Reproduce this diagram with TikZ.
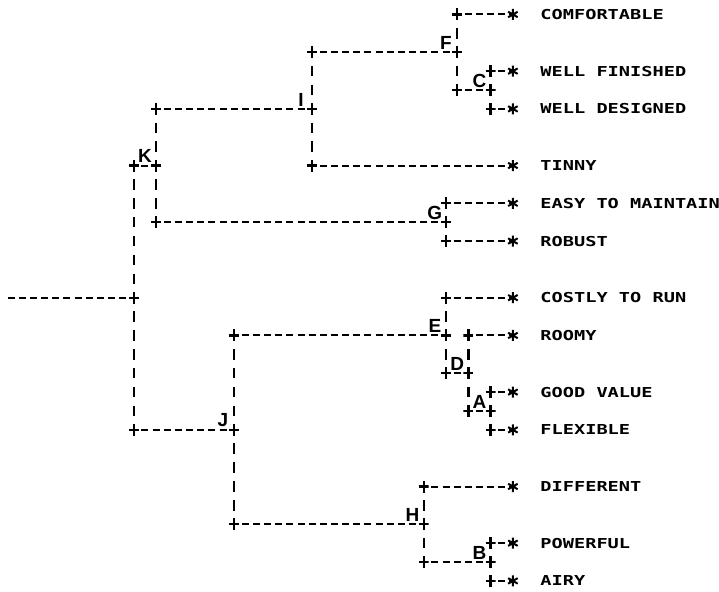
\documentclass[tikz,border=0pt]{standalone}
\usepackage{fontspec}
\newfontfamily\printfont[FakeStretch=1.36]{DejaVu Sans Mono}
\newfontfamily\handfont{Liberation Sans Bold}
\begin{document}
\begin{tikzpicture}[x=11.15pt,y=-18.88pt,
  hdash/.style={line width=2pt, dash pattern=on 7pt off 4.15pt, dash phase=3.5pt},
  vdash/.style={line width=2.4pt, dash pattern=on 10.5pt off 8.38pt, dash phase=5.25pt},
  plusmark/.style={inner sep=0pt, minimum width=10pt, minimum height=12pt,
    path picture={\draw[line width=2.4pt]
      (path picture bounding box.north) -- (path picture bounding box.south);
      \draw[line width=2.2pt]
      (path picture bounding box.west) -- (path picture bounding box.east);}},
  starmark/.style={inner sep=0pt, minimum size=11pt,
    path picture={\draw[line width=2pt]
      (path picture bounding box.center) ++(90:5.5pt) -- ++(270:11pt)
      (path picture bounding box.center) ++(30:5.5pt) -- ++(210:11pt)
      (path picture bounding box.center) ++(150:5.5pt) -- ++(330:11pt);}},
  lbl/.style={anchor=west, inner sep=0pt,
    font=\printfont\bfseries\fontsize{13.7}{16}\selectfont},
  letterlbl/.style={anchor=south, inner sep=0pt, yshift=2.5pt,
    font=\handfont\fontsize{19}{19}\selectfont}
]
\useasboundingbox (0,-0.768) rectangle (64.484,30.535);

% ---- junction and corner marks
\foreach \n/\x/\r in {
  pComf/41/0, pF/41/2, pC0/41/4, pI1/28/2,
  pWF/44/3, pCj/44/4, pWD/44/5,
  pI/28/5, pTin/28/8, pK2a/14/5, pK/14/8, pG0/14/11,
  pEasy/40/10, pG/40/11, pRob/40/12,
  pKl/12/8, pRoot/12/15, pJl/12/22,
  pCost/40/15, pE/40/17, pD0/40/19,
  pRoomy/42/17, pD/42/19, pA0/42/21,
  pGV/44/20, pA/44/21, pFlex/44/22,
  pJ1/21/17, pJ/21/22, pJb/21/27,
  pDiff/38/25, pH/38/27, pB0/38/29,
  pPow/44/28, pB/44/29, pAiry/44/30}
  \node[plusmark] (\n) at (\x,\r) {};

\coordinate (rootin) at (0.686,15);

% ---- leaves and their labels
\foreach \n/\r/\t in {
  Comf/0/COMFORTABLE, WF/3/WELL FINISHED, WD/5/WELL DESIGNED,
  Tin/8/TINNY, Easy/10/EASY TO MAINTAIN, Rob/12/ROBUST,
  Cost/15/COSTLY TO RUN, Roomy/17/ROOMY, GV/20/GOOD VALUE,
  Flex/22/FLEXIBLE, Diff/25/DIFFERENT, Pow/28/POWERFUL, Airy/30/AIRY}
{
  \node[starmark] (s\n) at (46,\r) {};
  \node[lbl] (t\n) at (48.45,\r) {\t};
  \draw[hdash] (p\n.center) -- (s\n.center);
}

% ---- vertical connectors
\foreach \a/\b/\c in {
  pComf/pF/pC0, pWF/pCj/pWD, pI1/pI/pTin, pK2a/pK/pG0,
  pEasy/pG/pRob, pKl/pRoot/pJl, pCost/pE/pD0, pRoomy/pD/pA0,
  pGV/pA/pFlex, pJ1/pJ/pJb, pDiff/pH/pB0, pPow/pB/pAiry}
  \draw[vdash] (\a.center) -- (\b.center) -- (\c.center);

% ---- horizontal connectors between clusters
\foreach \a/\b in {
  pI1/pF, pC0/pCj, pK2a/pI, pKl/pK, pG0/pG, pJ1/pE,
  pD0/pD, pA0/pA, pJl/pJ, pJb/pH, pB0/pB}
  \draw[hdash] (\a.center) -- (\b.center);
\draw[line width=2pt, dash pattern=on 7pt off 4.15pt] (rootin) -- (pRoot.center);

% ---- cluster letters
\foreach \n/\x/\r/\t in {
  lF/40/2/F, lC/43/4/C, lI/27/5/I, lK/13/8/K, lG/39/11/G,
  lE/39/17/E, lD/41/19/D, lA/43/21/A, lJ/20/22/J, lH/37/27/H, lB/43/29/B}
  \node[letterlbl] (\n) at (\x,\r) {\t};
\end{tikzpicture}
\end{document}
